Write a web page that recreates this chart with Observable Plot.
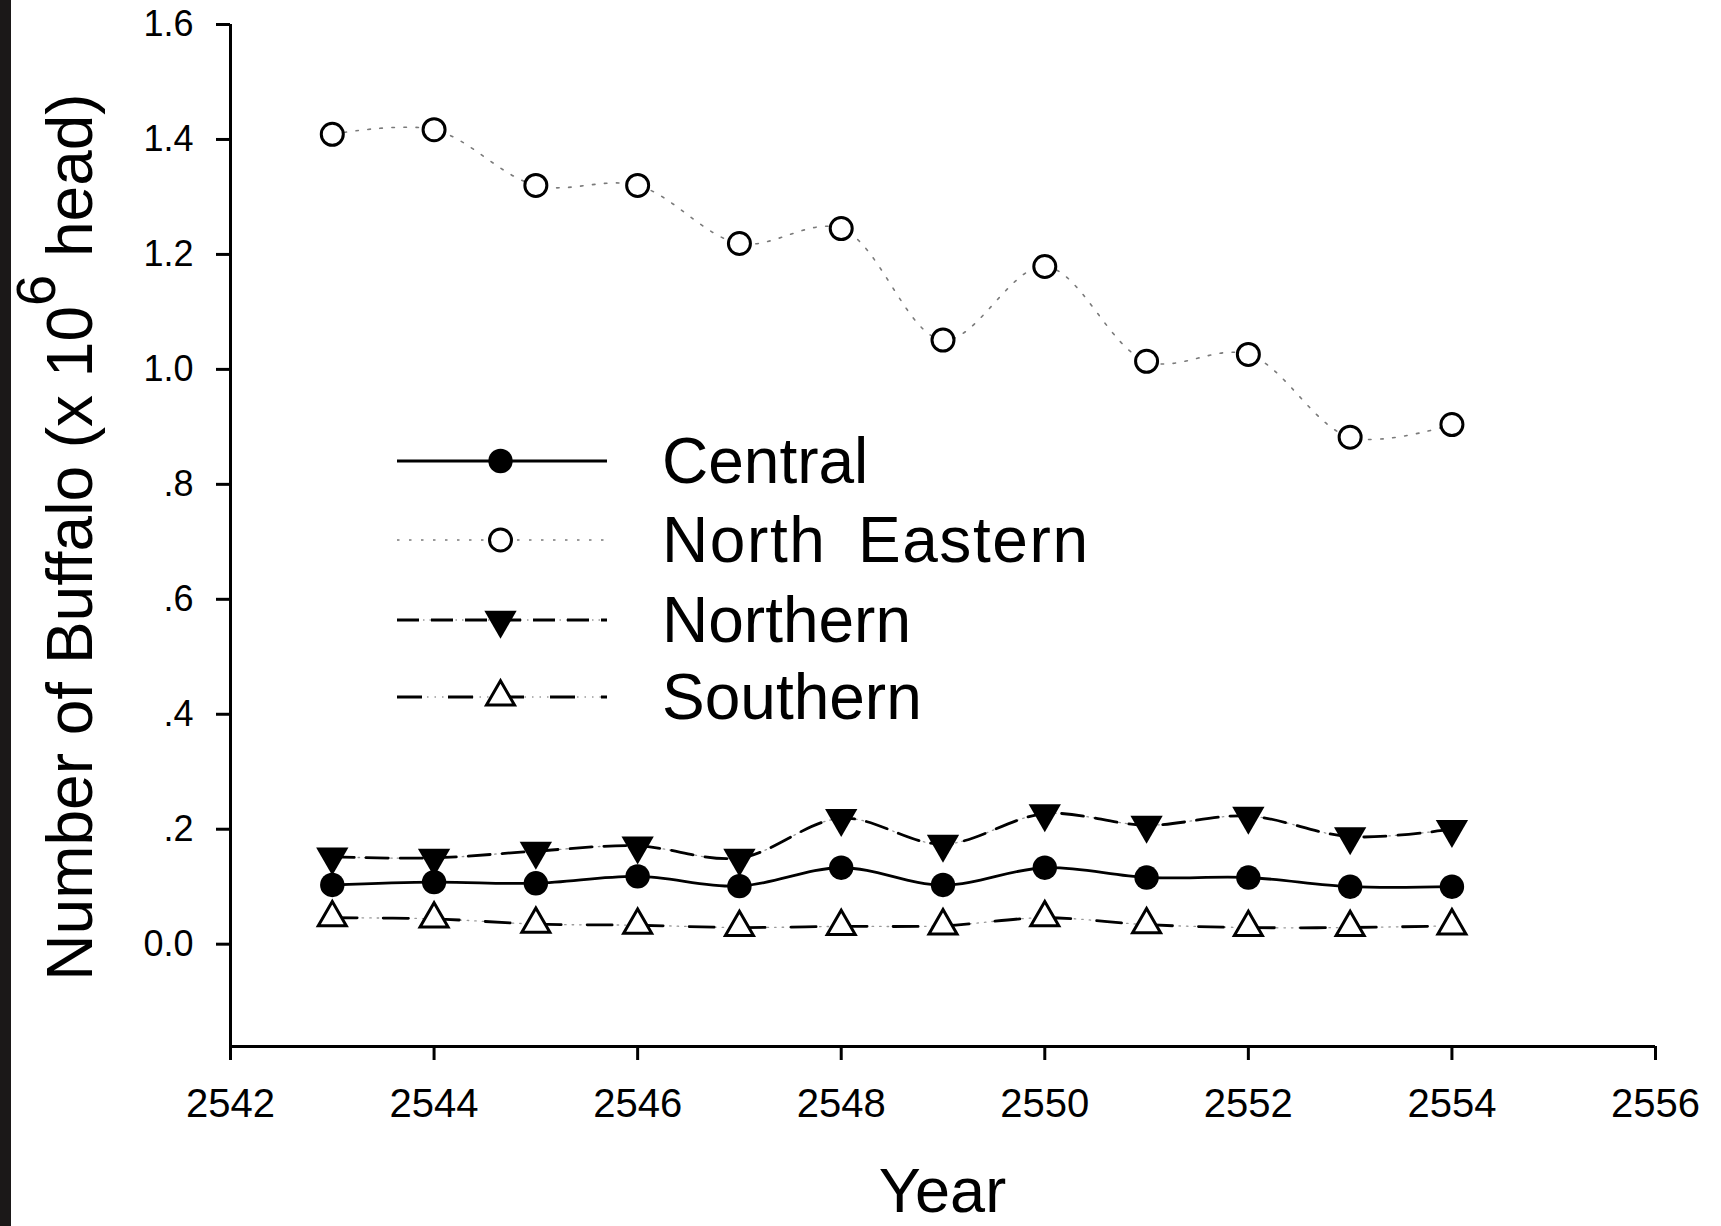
<!DOCTYPE html>
<html>
<head>
<meta charset="utf-8">
<script src="https://cdn.jsdelivr.net/npm/d3@7"></script>
<script src="https://cdn.jsdelivr.net/npm/@observablehq/plot@0.6"></script>
<style>
  html, body { margin: 0; padding: 0; background: #fff; }
  #wrap { position: relative; width: 1721px; height: 1226px; overflow: hidden; background: #fff; }
  #chart { position: absolute; left: 0; top: 0; }
  #strip { position: absolute; left: 0; top: 0; width: 11px; height: 1226px; background: #1b1818; }
</style>
</head>
<body>
<div id="wrap"><div id="chart"></div><div id="strip"></div></div>
<script>
// ---- data ----
const years = [2543, 2544, 2545, 2546, 2547, 2548, 2549, 2550, 2551, 2552, 2553, 2554];
const central      = [0.103, 0.108, 0.106, 0.118, 0.101, 0.133, 0.103, 0.133, 0.116, 0.116, 0.100, 0.100];
const northEastern = [1.409, 1.417, 1.320, 1.320, 1.219, 1.245, 1.051, 1.179, 1.014, 1.026, 0.882, 0.904];
const northern     = [0.152, 0.150, 0.162, 0.171, 0.150, 0.219, 0.174, 0.227, 0.207, 0.223, 0.187, 0.200];
const southern     = [0.046, 0.044, 0.035, 0.033, 0.029, 0.031, 0.032, 0.046, 0.034, 0.029, 0.029, 0.032];
const seriesNames  = ["Central", "North Eastern", "Northern", "Southern"];
const xTicks = [2542, 2544, 2546, 2548, 2550, 2552, 2554, 2556];
const yTicks = [0, 0.2, 0.4, 0.6, 0.8, 1.0, 1.2, 1.4, 1.6];
const yTickLabels = ["0.0", ".2", ".4", ".6", ".8", "1.0", "1.2", "1.4", "1.6"];
const xTitle = "Year";
const yTitleMain = "Number of Buffalo (x 10";
const yTitleSup = "6";
const yTitleEnd = " head)";

// ---- tidy rows ----
const rows = (name, vals) => years.map((year, i) => ({year, value: vals[i], series: name}));
const cRows = rows(seriesNames[0], central);
const neRows = rows(seriesNames[1], northEastern);
const nRows = rows(seriesNames[2], northern);
const sRows = rows(seriesNames[3], southern);

const W = 1721, H = 1226;
const yMin = -0.178;
const font = '"Liberation Sans", Arial, Helvetica, sans-serif';
const curve = "catmull-rom";

const sty = {
  c:  {r: 12.2},
  ne: {r: 11},
  n:  {r: 12},
  s:  {r: 10.4}
};

const plot = Plot.plot({
  width: W, height: H,
  marginLeft: 230, marginRight: 66, marginTop: 24, marginBottom: 180,
  style: {fontFamily: font, color: "#000", background: "transparent", overflow: "visible"},
  x: {domain: [2542, 2556]},
  y: {domain: [yMin, 1.6]},
  marks: [
    Plot.axisX({ticks: xTicks, tickFormat: d => String(d), tickSize: 14, tickPadding: 28, fontSize: 40, strokeWidth: 3, label: null}),
    Plot.axisY({ticks: yTicks, tickFormat: d => yTickLabels[yTicks.findIndex(t => Math.abs(t - d) < 1e-9)], tickSize: 14, tickPadding: 23, fontSize: 36, strokeWidth: 3, label: null}),
    Plot.ruleX([2542], {y1: yMin, y2: 1.6, stroke: "#000", strokeWidth: 3}),
    Plot.ruleY([yMin], {x1: 2542, x2: 2556, stroke: "#000", strokeWidth: 3}),
    // lines
    Plot.line(neRows, {x: "year", y: "value", curve, stroke: "#7a7a7a", strokeWidth: 1.6, strokeDasharray: "2.5 9.5"}),
    Plot.line(nRows, {x: "year", y: "value", curve, stroke: "#9a9a9a", strokeWidth: 1.3, strokeDasharray: "1.5 5"}),
    Plot.line(nRows, {x: "year", y: "value", curve, stroke: "#000", strokeWidth: 2.8, strokeDasharray: "22 12"}),
    Plot.line(sRows, {x: "year", y: "value", curve, stroke: "#9a9a9a", strokeWidth: 1.3, strokeDasharray: "1.5 6"}),
    Plot.line(sRows, {x: "year", y: "value", curve, stroke: "#000", strokeWidth: 2.8, strokeDasharray: "25 26"}),
    Plot.line(cRows, {x: "year", y: "value", curve, stroke: "#000", strokeWidth: 2.8}),
    // markers
    Plot.dot(sRows, {x: "year", y: "value", symbol: "triangle", r: sty.s.r, fill: "#fff", stroke: "#000", strokeWidth: 3}),
    Plot.dot(cRows, {x: "year", y: "value", symbol: "circle", r: sty.c.r, fill: "#000", stroke: "none"}),
    Plot.dot(nRows, {x: "year", y: "value", symbol: "triangle", r: sty.n.r, fill: "#000", stroke: "none", rotate: 180}),
    Plot.dot(neRows, {x: "year", y: "value", symbol: "circle", r: sty.ne.r, fill: "#fff", stroke: "#000", strokeWidth: 3})
  ]
});
document.getElementById("chart").appendChild(plot);

const svg = d3.select(plot);

// ---- axis titles ----
svg.append("text")
  .attr("x", 942.5).attr("y", 1212)
  .attr("text-anchor", "middle")
  .style("font-family", font).style("font-size", "63px").attr("fill", "#000")
  .text(xTitle);

const yt = svg.append("text")
  .attr("transform", "translate(92,537) rotate(-90)")
  .attr("text-anchor", "middle")
  .style("font-family", font).style("font-size", "64px").attr("fill", "#000");
yt.append("tspan").text(yTitleMain);
yt.append("tspan").attr("dy", -37).style("font-size", "56px").text(yTitleSup);
yt.append("tspan").attr("dy", 37).text(yTitleEnd);

// ---- legend ----
const legendStyles = [
  {name: seriesNames[0], stroke: "#000", width: 2.8, dash: null, under: null, symbol: d3.symbolCircle, r: sty.c.r, fill: "#000", mstroke: "none", rot: 0, ls: 0, ws: 0},
  {name: seriesNames[1], stroke: "#7a7a7a", width: 1.6, dash: "2.5 9.5", under: null, symbol: d3.symbolCircle, r: sty.ne.r, fill: "#fff", mstroke: "#000", rot: 0, ls: 1.6, ws: 12},
  {name: seriesNames[2], stroke: "#000", width: 2.8, dash: "22 12", under: "1.5 5", symbol: d3.symbolTriangle, r: sty.n.r, fill: "#000", mstroke: "none", rot: 180, ls: 0, ws: 0},
  {name: seriesNames[3], stroke: "#000", width: 2.8, dash: "25 26", under: "1.5 6", symbol: d3.symbolTriangle, r: sty.s.r, fill: "#fff", mstroke: "#000", rot: 0, ls: 0, ws: 0}
];
const rowY = [461, 540, 620, 697];
const lg = svg.append("g").attr("text-anchor", "start");
legendStyles.forEach((s, i) => {
  const y = rowY[i];
  if (s.under) {
    lg.append("line").attr("x1", 397).attr("x2", 607).attr("y1", y).attr("y2", y)
      .attr("stroke", "#9a9a9a").attr("stroke-width", 1.3).attr("stroke-dasharray", s.under);
  }
  const ln = lg.append("line").attr("x1", 397).attr("x2", 607).attr("y1", y).attr("y2", y)
    .attr("stroke", s.stroke).attr("stroke-width", s.width);
  if (s.dash) ln.attr("stroke-dasharray", s.dash);
  lg.append("path")
    .attr("d", d3.symbol(s.symbol, Math.PI * s.r * s.r)())
    .attr("transform", `translate(500.5,${y}) rotate(${s.rot})`)
    .attr("fill", s.fill).attr("stroke", s.mstroke).attr("stroke-width", 3);
  lg.append("text").attr("x", 662).attr("y", y).attr("dy", "0.35em")
    .attr("text-anchor", "start")
    .style("font-family", font).style("font-size", "64px")
    .style("letter-spacing", s.ls + "px").style("word-spacing", s.ws + "px")
    .attr("fill", "#000")
    .text(s.name);
});
</script>
</body>
</html>
